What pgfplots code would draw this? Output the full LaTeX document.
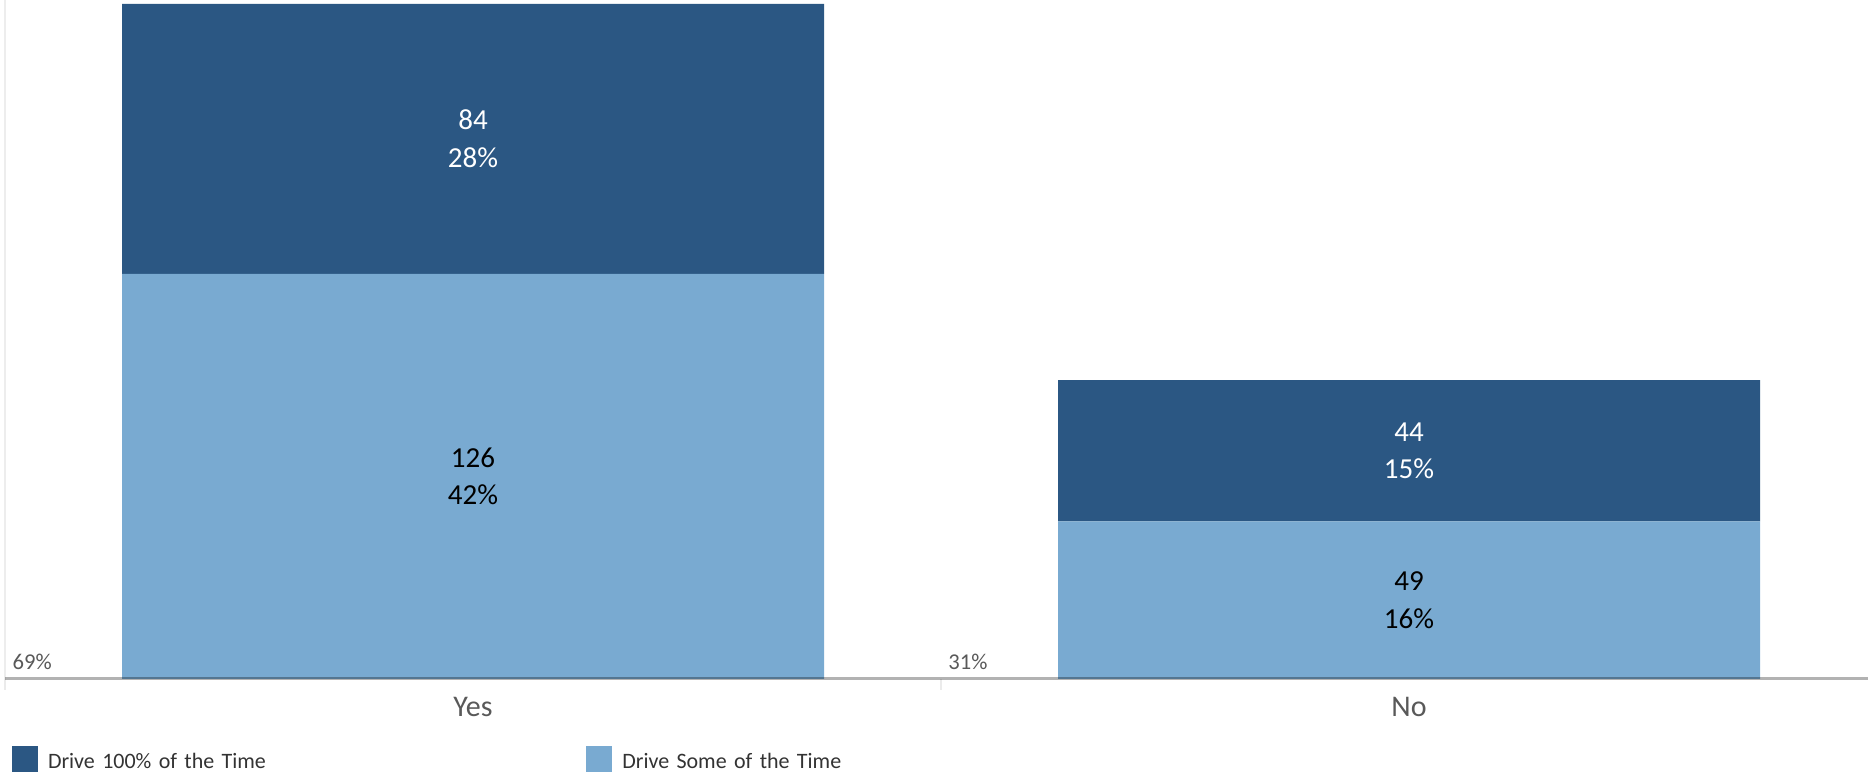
\documentclass[border=0pt]{standalone}
\usepackage{fontspec}
\setmainfont{Carlito}
\usepackage{pgfplots}
\pgfplotsset{compat=1.18}
\definecolor{darkblue}{HTML}{2B5783}
\definecolor{lightblue}{HTML}{79AAD1}
\definecolor{labelgray}{HTML}{595959}
\definecolor{legendtext}{HTML}{333333}
\begin{document}
\begin{tikzpicture}
\begin{axis}[
  at={(2.5pt,48.5pt)}, anchor=south west,
  scale only axis,
  width=931.5pt, height=339.5pt,
  ybar stacked, bar width=0.75,
  xmin=-0.5, xmax=1.4904, ymin=0, ymax=211.2,
  enlargelimits=false,
  xtick={0,1}, xticklabels={Yes,No},
  extra x ticks={-0.5,0.5}, extra x tick labels={},
  extra x tick style={major tick length=5.5pt, tick align=outside,
    tick style={draw=black!8, line width=0.6pt}},
  major tick length=0pt,
  ytick=\empty,
  axis x line*=bottom, axis y line*=left,
  x axis line style={draw=none, -},
  y axis line style={line width=0.6pt, draw=black!7, -},
  xticklabel style={anchor=base, inner sep=0pt, yshift=-18.85pt,
    font=\fontsize{15pt}{18pt}\selectfont, text=labelgray},
  clip=false,
  reverse legend,
  legend columns=2,
  legend image code/.code={\fill[#1] (0pt,-1.5pt) rectangle (13pt,11.5pt);},
  legend style={at={(axis description cs:0,0)}, anchor=south west,
    xshift=3.35pt, yshift=-46.5pt, draw=none, fill=none,
    inner sep=0pt, outer sep=0pt, row sep=0pt,
    nodes={inner sep=0pt, anchor=base west, text width=269pt, align=left,
      font=\fontsize{11pt}{13pt}\selectfont, text=legendtext},
    /tikz/every odd column/.append style={column sep=5.15pt},
    /tikz/every even column/.append style={column sep=0pt}},
]
\addplot[fill=lightblue, draw=none] coordinates {(0,126) (1,49)};
\addlegendentry{Drive Some of the Time}
\addplot[fill=darkblue, draw=none] coordinates {(0,84) (1,44)};
\addlegendentry{Drive 100\% of the Time}

\coordinate (L) at (axis cs:-0.5,0);
\coordinate (R) at (axis cs:1.4904,0);
\coordinate (A1) at (axis cs:0,63);
\coordinate (A2) at (axis cs:0,168);
\coordinate (B1) at (axis cs:1,24.5);
\coordinate (B2) at (axis cs:1,71);
\coordinate (T1) at (axis cs:-0.5,0);
\coordinate (T2) at (axis cs:0.5,0);
\end{axis}
\draw[line width=1.5pt, draw=black, draw opacity=0.3] (L) -- (R);
\begin{scope}[every node/.style={align=center, font=\fontsize{14.5pt}{18.8pt}\selectfont}]
\node[text=black] at (A1) {126\\42\%};
\node[text=white] at (A2) {84\\28\%};
\node[text=black] at (B1) {49\\16\%};
\node[text=white] at (B2) {44\\15\%};
\end{scope}
\node[anchor=base west, inner sep=0pt, xshift=3.65pt, yshift=4.85pt, text=labelgray, font=\fontsize{11.3pt}{13pt}\selectfont] at (T1) {69\%};
\node[anchor=base west, inner sep=0pt, xshift=3.5pt, yshift=4.85pt, text=labelgray, font=\fontsize{11.3pt}{13pt}\selectfont] at (T2) {31\%};
\pgfresetboundingbox
\path[use as bounding box] (0,0) rectangle (934pt,388pt);
\end{tikzpicture}
\end{document}
